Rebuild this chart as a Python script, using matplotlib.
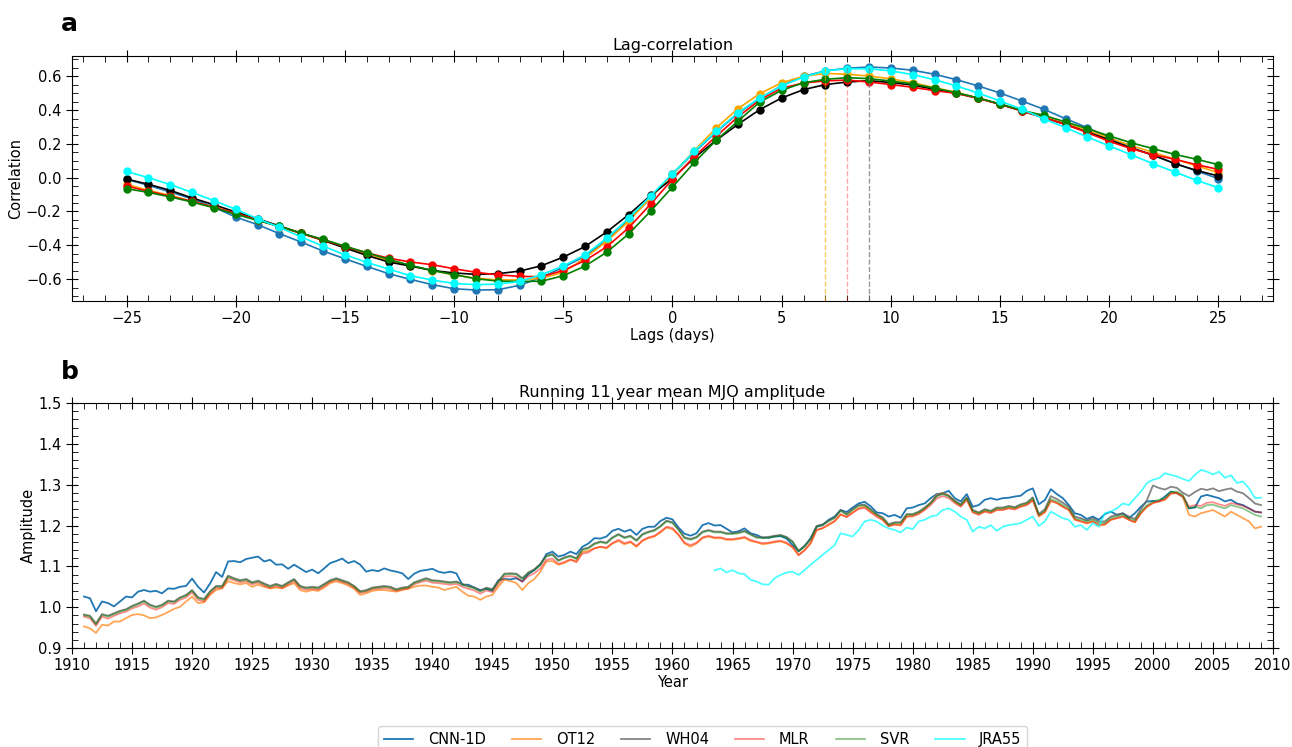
import matplotlib.pyplot as plt
import numpy as np
from matplotlib.ticker import MultipleLocator

# ---- panel a: lag-correlation ----
lags = np.arange(-25, 26)
cnn_lag = [-0.010, -0.045, -0.085, -0.125, -0.175, -0.233, -0.278, -0.331, -0.381, -0.434,
           -0.480, -0.525, -0.568, -0.602, -0.633, -0.657, -0.665, -0.663, -0.637, -0.590,
           -0.530, -0.465, -0.370, -0.250, -0.120, 0.020, 0.150, 0.270, 0.380, 0.470,
           0.545, 0.600, 0.632, 0.648, 0.655, 0.649, 0.636, 0.612, 0.580, 0.543,
           0.501, 0.454, 0.405, 0.349, 0.296, 0.237, 0.180, 0.132, 0.085, 0.040,
           -0.006]
ot12_lag = [-0.040, -0.075, -0.105, -0.140, -0.175, -0.210, -0.250, -0.290, -0.330, -0.370,
            -0.410, -0.450, -0.490, -0.520, -0.550, -0.575, -0.595, -0.605, -0.605, -0.595,
            -0.560, -0.475, -0.375, -0.257, -0.118, 0.020, 0.160, 0.294, 0.409, 0.497,
            0.562, 0.600, 0.617, 0.612, 0.602, 0.585, 0.562, 0.533, 0.505, 0.470,
            0.436, 0.397, 0.360, 0.320, 0.280, 0.235, 0.190, 0.150, 0.110, 0.070,
            0.030]
wh04_lag = [-0.008, -0.039, -0.075, -0.120, -0.160, -0.203, -0.243, -0.286, -0.328, -0.371,
            -0.416, -0.460, -0.499, -0.523, -0.549, -0.564, -0.572, -0.568, -0.553, -0.521,
            -0.470, -0.407, -0.320, -0.218, -0.105, -0.005, 0.118, 0.221, 0.316, 0.403,
            0.472, 0.521, 0.551, 0.566, 0.574, 0.563, 0.548, 0.523, 0.500, 0.470,
            0.435, 0.395, 0.355, 0.315, 0.270, 0.225, 0.175, 0.135, 0.083, 0.043,
            0.010]
mlr_lag = [-0.050, -0.080, -0.110, -0.140, -0.175, -0.210, -0.250, -0.290, -0.330, -0.368,
           -0.408, -0.445, -0.476, -0.499, -0.515, -0.539, -0.560, -0.575, -0.584, -0.586,
           -0.549, -0.490, -0.408, -0.296, -0.156, -0.010, 0.125, 0.245, 0.360, 0.460,
           0.530, 0.560, 0.573, 0.578, 0.566, 0.551, 0.535, 0.515, 0.499, 0.470,
           0.434, 0.395, 0.355, 0.316, 0.266, 0.215, 0.172, 0.136, 0.109, 0.077,
           0.049]
svr_lag = [-0.065, -0.087, -0.114, -0.144, -0.178, -0.217, -0.253, -0.288, -0.328, -0.365,
           -0.405, -0.444, -0.483, -0.519, -0.549, -0.574, -0.598, -0.612, -0.614, -0.613,
           -0.580, -0.523, -0.440, -0.332, -0.198, -0.055, 0.090, 0.221, 0.335, 0.448,
           0.517, 0.562, 0.582, 0.592, 0.586, 0.572, 0.555, 0.530, 0.503, 0.472,
           0.436, 0.398, 0.369, 0.330, 0.290, 0.247, 0.207, 0.172, 0.138, 0.109,
           0.077]
jra_lag = [0.037, 0.000, -0.041, -0.087, -0.136, -0.187, -0.243, -0.294, -0.351, -0.405,
           -0.456, -0.501, -0.541, -0.580, -0.606, -0.626, -0.633, -0.630, -0.614, -0.574,
           -0.523, -0.456, -0.357, -0.239, -0.108, 0.024, 0.156, 0.274, 0.385, 0.472,
           0.543, 0.596, 0.632, 0.645, 0.645, 0.632, 0.610, 0.580, 0.543, 0.501,
           0.454, 0.405, 0.349, 0.296, 0.241, 0.188, 0.136, 0.083, 0.034, -0.016,
           -0.059]

# ---- panel b: running 11 year mean amplitude (half-year samples) ----
years = np.arange(1911, 2009.01, 0.5)
cnn_amp = [1.026, 1.022, 0.990, 1.014, 1.010, 1.002, 1.014, 1.026, 1.024, 1.038,
           1.042, 1.038, 1.040, 1.034, 1.046, 1.045, 1.050, 1.052, 1.070, 1.050,
           1.036, 1.058, 1.086, 1.074, 1.112, 1.113, 1.110, 1.118, 1.121, 1.124,
           1.112, 1.116, 1.104, 1.105, 1.094, 1.104, 1.095, 1.086, 1.092, 1.083,
           1.095, 1.108, 1.113, 1.119, 1.108, 1.113, 1.104, 1.087, 1.091, 1.088,
           1.095, 1.090, 1.087, 1.083, 1.069, 1.082, 1.089, 1.091, 1.094, 1.087,
           1.084, 1.087, 1.083, 1.055, 1.055, 1.048, 1.042, 1.045, 1.040, 1.066,
           1.069, 1.068, 1.071, 1.063, 1.081, 1.091, 1.104, 1.130, 1.136, 1.124,
           1.128, 1.136, 1.130, 1.148, 1.156, 1.169, 1.168, 1.173, 1.187, 1.192,
           1.185, 1.190, 1.177, 1.192, 1.197, 1.197, 1.211, 1.219, 1.215, 1.195,
           1.180, 1.175, 1.181, 1.201, 1.206, 1.200, 1.201, 1.192, 1.183, 1.186,
           1.193, 1.181, 1.177, 1.170, 1.170, 1.173, 1.174, 1.168, 1.152, 1.137,
           1.150, 1.169, 1.197, 1.201, 1.214, 1.222, 1.238, 1.233, 1.244, 1.254,
           1.258, 1.247, 1.232, 1.230, 1.222, 1.226, 1.219, 1.242, 1.244, 1.250,
           1.254, 1.267, 1.277, 1.279, 1.285, 1.267, 1.259, 1.277, 1.246, 1.250,
           1.263, 1.267, 1.263, 1.267, 1.268, 1.271, 1.273, 1.285, 1.291, 1.252,
           1.262, 1.289, 1.277, 1.267, 1.250, 1.230, 1.226, 1.216, 1.222, 1.214,
           1.228, 1.234, 1.226, 1.230, 1.218, 1.230, 1.246, 1.259, 1.260, 1.259,
           1.271, 1.283, 1.279, 1.270, 1.242, 1.244, 1.271, 1.275, 1.271, 1.267,
           1.259, 1.263, 1.254, 1.250, 1.242, 1.234, 1.232]
ot12_amp = [0.953, 0.948, 0.937, 0.957, 0.955, 0.965, 0.965, 0.973, 0.981, 0.983,
            0.980, 0.973, 0.975, 0.981, 0.988, 0.996, 1.001, 1.014, 1.026, 1.010,
            1.012, 1.030, 1.042, 1.046, 1.064, 1.059, 1.056, 1.059, 1.050, 1.055,
            1.050, 1.046, 1.048, 1.046, 1.053, 1.059, 1.042, 1.038, 1.042, 1.040,
            1.048, 1.059, 1.063, 1.059, 1.053, 1.045, 1.030, 1.034, 1.040, 1.042,
            1.042, 1.040, 1.038, 1.042, 1.045, 1.050, 1.053, 1.053, 1.050, 1.048,
            1.042, 1.046, 1.050, 1.038, 1.028, 1.026, 1.018, 1.026, 1.030, 1.050,
            1.067, 1.064, 1.059, 1.042, 1.059, 1.069, 1.087, 1.112, 1.113, 1.104,
            1.108, 1.116, 1.113, 1.135, 1.138, 1.144, 1.148, 1.144, 1.156, 1.162,
            1.154, 1.159, 1.148, 1.162, 1.169, 1.173, 1.183, 1.195, 1.191, 1.177,
            1.156, 1.148, 1.156, 1.169, 1.173, 1.169, 1.169, 1.165, 1.165, 1.167,
            1.170, 1.162, 1.159, 1.154, 1.156, 1.159, 1.161, 1.156, 1.146, 1.128,
            1.140, 1.156, 1.189, 1.193, 1.201, 1.210, 1.226, 1.222, 1.232, 1.242,
            1.246, 1.234, 1.225, 1.214, 1.199, 1.203, 1.200, 1.222, 1.224, 1.230,
            1.240, 1.256, 1.275, 1.280, 1.274, 1.258, 1.248, 1.266, 1.233, 1.228,
            1.235, 1.232, 1.239, 1.239, 1.243, 1.241, 1.247, 1.251, 1.262, 1.222,
            1.232, 1.260, 1.255, 1.246, 1.238, 1.214, 1.210, 1.205, 1.210, 1.200,
            1.202, 1.214, 1.218, 1.222, 1.214, 1.208, 1.230, 1.246, 1.255, 1.259,
            1.263, 1.279, 1.279, 1.270, 1.226, 1.222, 1.230, 1.234, 1.238, 1.230,
            1.222, 1.234, 1.226, 1.218, 1.210, 1.193, 1.197]
wh04_amp = [0.982, 0.979, 0.960, 0.983, 0.979, 0.985, 0.991, 0.995, 1.003, 1.009,
            1.016, 1.006, 1.001, 1.006, 1.016, 1.014, 1.024, 1.030, 1.042, 1.024,
            1.020, 1.039, 1.052, 1.052, 1.077, 1.071, 1.066, 1.069, 1.061, 1.065,
            1.058, 1.052, 1.057, 1.052, 1.061, 1.069, 1.052, 1.048, 1.050, 1.048,
            1.057, 1.066, 1.071, 1.066, 1.061, 1.052, 1.039, 1.042, 1.048, 1.050,
            1.052, 1.050, 1.044, 1.048, 1.050, 1.061, 1.066, 1.071, 1.066, 1.065,
            1.063, 1.061, 1.063, 1.057, 1.052, 1.048, 1.040, 1.048, 1.044, 1.064,
            1.082, 1.083, 1.082, 1.071, 1.085, 1.093, 1.106, 1.126, 1.130, 1.115,
            1.122, 1.126, 1.120, 1.142, 1.146, 1.156, 1.161, 1.158, 1.171, 1.179,
            1.171, 1.175, 1.164, 1.179, 1.185, 1.189, 1.199, 1.212, 1.208, 1.191,
            1.171, 1.167, 1.172, 1.185, 1.189, 1.185, 1.185, 1.181, 1.181, 1.183,
            1.187, 1.179, 1.172, 1.171, 1.172, 1.175, 1.177, 1.172, 1.161, 1.138,
            1.150, 1.167, 1.199, 1.203, 1.212, 1.220, 1.238, 1.228, 1.240, 1.250,
            1.251, 1.240, 1.228, 1.220, 1.203, 1.208, 1.208, 1.228, 1.228, 1.234,
            1.244, 1.256, 1.273, 1.279, 1.273, 1.261, 1.252, 1.269, 1.238, 1.232,
            1.240, 1.236, 1.244, 1.244, 1.248, 1.245, 1.252, 1.256, 1.269, 1.228,
            1.240, 1.272, 1.265, 1.256, 1.246, 1.222, 1.218, 1.212, 1.218, 1.210,
            1.210, 1.222, 1.226, 1.230, 1.222, 1.216, 1.240, 1.262, 1.298, 1.292,
            1.288, 1.295, 1.292, 1.280, 1.272, 1.282, 1.290, 1.287, 1.291, 1.284,
            1.288, 1.291, 1.283, 1.279, 1.267, 1.254, 1.250]
mlr_amp = [0.977, 0.973, 0.954, 0.977, 0.972, 0.979, 0.985, 0.989, 0.997, 1.002,
           1.009, 0.999, 0.994, 1.000, 1.010, 1.008, 1.018, 1.024, 1.036, 1.018,
           1.014, 1.033, 1.047, 1.047, 1.071, 1.066, 1.061, 1.064, 1.056, 1.060,
           1.053, 1.047, 1.052, 1.047, 1.056, 1.064, 1.047, 1.043, 1.045, 1.043,
           1.052, 1.062, 1.067, 1.062, 1.057, 1.048, 1.035, 1.038, 1.044, 1.046,
           1.047, 1.045, 1.040, 1.044, 1.046, 1.056, 1.061, 1.065, 1.060, 1.059,
           1.057, 1.055, 1.057, 1.050, 1.045, 1.041, 1.033, 1.041, 1.037, 1.057,
           1.075, 1.076, 1.074, 1.062, 1.076, 1.083, 1.095, 1.116, 1.119, 1.106,
           1.111, 1.117, 1.110, 1.131, 1.134, 1.144, 1.148, 1.146, 1.157, 1.165,
           1.157, 1.161, 1.150, 1.164, 1.171, 1.175, 1.185, 1.197, 1.194, 1.178,
           1.158, 1.152, 1.158, 1.171, 1.175, 1.171, 1.171, 1.167, 1.167, 1.169,
           1.172, 1.165, 1.160, 1.157, 1.158, 1.161, 1.163, 1.158, 1.148, 1.127,
           1.139, 1.157, 1.189, 1.194, 1.203, 1.211, 1.228, 1.220, 1.231, 1.241,
           1.243, 1.232, 1.221, 1.214, 1.198, 1.202, 1.202, 1.222, 1.222, 1.228,
           1.238, 1.250, 1.266, 1.272, 1.267, 1.255, 1.246, 1.262, 1.232, 1.226,
           1.234, 1.230, 1.238, 1.238, 1.242, 1.239, 1.246, 1.250, 1.262, 1.224,
           1.233, 1.261, 1.255, 1.246, 1.238, 1.215, 1.210, 1.206, 1.210, 1.202,
           1.203, 1.214, 1.218, 1.222, 1.214, 1.208, 1.230, 1.246, 1.255, 1.259,
           1.264, 1.278, 1.280, 1.272, 1.246, 1.250, 1.248, 1.256, 1.257, 1.252,
           1.248, 1.255, 1.252, 1.248, 1.242, 1.234, 1.232]
svr_amp = [0.980, 0.977, 0.958, 0.981, 0.977, 0.983, 0.989, 0.993, 1.001, 1.007,
           1.014, 1.004, 0.999, 1.004, 1.014, 1.012, 1.022, 1.028, 1.040, 1.022,
           1.018, 1.037, 1.050, 1.050, 1.075, 1.069, 1.064, 1.067, 1.059, 1.063,
           1.056, 1.050, 1.055, 1.050, 1.059, 1.067, 1.050, 1.046, 1.048, 1.046,
           1.055, 1.064, 1.069, 1.064, 1.059, 1.050, 1.037, 1.040, 1.046, 1.048,
           1.050, 1.048, 1.042, 1.046, 1.048, 1.059, 1.064, 1.069, 1.064, 1.063,
           1.061, 1.059, 1.061, 1.055, 1.050, 1.046, 1.038, 1.046, 1.042, 1.062,
           1.080, 1.081, 1.080, 1.069, 1.083, 1.091, 1.104, 1.124, 1.128, 1.113,
           1.120, 1.124, 1.118, 1.140, 1.144, 1.154, 1.159, 1.156, 1.169, 1.177,
           1.169, 1.173, 1.162, 1.177, 1.183, 1.187, 1.197, 1.210, 1.206, 1.189,
           1.169, 1.165, 1.170, 1.183, 1.187, 1.183, 1.183, 1.179, 1.179, 1.181,
           1.185, 1.177, 1.170, 1.169, 1.170, 1.173, 1.175, 1.170, 1.159, 1.136,
           1.148, 1.165, 1.197, 1.201, 1.210, 1.218, 1.236, 1.226, 1.238, 1.248,
           1.249, 1.238, 1.226, 1.218, 1.201, 1.206, 1.206, 1.226, 1.226, 1.232,
           1.242, 1.254, 1.271, 1.277, 1.271, 1.259, 1.250, 1.267, 1.236, 1.230,
           1.238, 1.234, 1.242, 1.242, 1.246, 1.243, 1.250, 1.254, 1.267, 1.226,
           1.236, 1.265, 1.259, 1.250, 1.242, 1.218, 1.214, 1.210, 1.214, 1.206,
           1.206, 1.218, 1.222, 1.226, 1.218, 1.212, 1.234, 1.250, 1.259, 1.263,
           1.267, 1.283, 1.283, 1.275, 1.242, 1.246, 1.242, 1.250, 1.251, 1.246,
           1.242, 1.250, 1.246, 1.242, 1.234, 1.226, 1.222]
years_jra = np.arange(1963.5, 2009.01, 0.5)
jra_amp = [1.090, 1.095, 1.085, 1.091, 1.083, 1.081, 1.067, 1.063, 1.056, 1.055,
           1.071, 1.079, 1.085, 1.087, 1.079, 1.091, 1.104, 1.116, 1.128, 1.140,
           1.152, 1.181, 1.177, 1.173, 1.189, 1.210, 1.214, 1.210, 1.200, 1.193,
           1.189, 1.183, 1.195, 1.191, 1.210, 1.214, 1.222, 1.225, 1.238, 1.242,
           1.234, 1.222, 1.214, 1.185, 1.197, 1.193, 1.201, 1.187, 1.197, 1.201,
           1.203, 1.206, 1.214, 1.222, 1.199, 1.210, 1.234, 1.226, 1.218, 1.214,
           1.197, 1.201, 1.189, 1.206, 1.197, 1.230, 1.234, 1.242, 1.254, 1.250,
           1.267, 1.283, 1.304, 1.312, 1.316, 1.328, 1.324, 1.320, 1.314, 1.309,
           1.324, 1.336, 1.332, 1.325, 1.332, 1.317, 1.323, 1.304, 1.308, 1.291,
           1.267, 1.268]
names = ["CNN-1D", "OT12", "WH04", "MLR", "SVR", "JRA55"]

fig = plt.figure(figsize=(12.92, 7.47), dpi=100)
ax1 = fig.add_axes([0.0557, 0.597, 0.9296, 0.328])
ax2 = fig.add_axes([0.0557, 0.1325, 0.9296, 0.328])

# panel a
top_series = [cnn_lag, ot12_lag, wh04_lag, mlr_lag, svr_lag, jra_lag]
top_colors = ["tab:blue", "orange", "black", "red", "green", "cyan"]
for vals, c in zip(top_series, top_colors):
    ax1.plot(lags, vals, "-o", color=c, lw=1.2, ms=5)
ax1.set_xlim(-27.5, 27.5)
ax1.set_ylim(-0.73, 0.72)
peak = max(max(v) for v in top_series)
for vals, c, a in [(ot12_lag, "orange", 0.6), (mlr_lag, "red", 0.35), (wh04_lag, "gray", 0.8)]:
    ax1.vlines(lags[np.argmax(vals)], -0.73, peak, colors=c, linestyles="--", lw=1, alpha=a)
ax1.set_title("Lag-correlation", fontsize=11.5, pad=4)
ax1.set_xlabel("Lags (days)", fontsize=10.5, labelpad=1)
ax1.set_ylabel("Correlation", fontsize=10.5, labelpad=2)
ax1.xaxis.set_major_locator(MultipleLocator(5))
ax1.xaxis.set_minor_locator(MultipleLocator(1))
ax1.yaxis.set_major_locator(MultipleLocator(0.2))
ax1.yaxis.set_minor_locator(MultipleLocator(0.05))

# panel b
bottom = [(years, cnn_amp, "#1f77b4", 1.0), (years, ot12_amp, "#ff7f0e", 0.7),
          (years, wh04_amp, "#666666", 0.8), (years, mlr_amp, "red", 0.45),
          (years, svr_amp, "green", 0.45), (years_jra, jra_amp, "cyan", 0.7)]
for (x, y, c, a), name in zip(bottom, names):
    ax2.plot(x, y, color=c, alpha=a, lw=1.3, label=name)
ax2.set_xlim(1910, 2010)
ax2.set_ylim(0.9, 1.5)
ax2.set_title("Running 11 year mean MJO amplitude", fontsize=11.5, pad=4)
ax2.set_xlabel("Year", fontsize=10.5, labelpad=1)
ax2.set_ylabel("Amplitude", fontsize=10.5, labelpad=2)
ax2.xaxis.set_major_locator(MultipleLocator(5))
ax2.xaxis.set_minor_locator(MultipleLocator(1))
ax2.yaxis.set_major_locator(MultipleLocator(0.1))
ax2.yaxis.set_minor_locator(MultipleLocator(0.02))

for ax in (ax1, ax2):
    ax.tick_params(which="major", direction="inout", length=8, top=True, right=True, labelsize=10.5)
    ax.tick_params(which="minor", direction="in", length=4, top=True, right=True)

fig.text(0.047, 0.958, "a", fontsize=18, fontweight="bold")
fig.text(0.047, 0.492, "b", fontsize=18, fontweight="bold")

fig.legend(*ax2.get_legend_handles_labels(), loc="upper center", bbox_to_anchor=(0.544, 0.028),
           ncol=6, fontsize=10.5, handlelength=2.0, handletextpad=1.0, columnspacing=1.8,
           frameon=True, borderaxespad=0)

fig.savefig("out.png", dpi=100)
